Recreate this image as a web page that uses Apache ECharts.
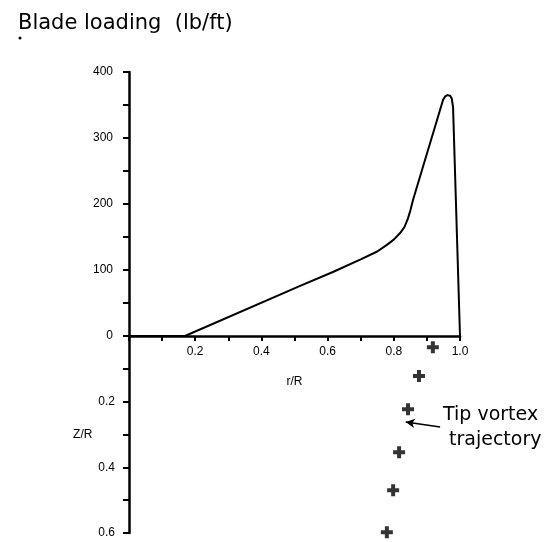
<!DOCTYPE html>
<html>
<head>
<meta charset="utf-8">
<script src="https://cdn.jsdelivr.net/npm/echarts@6/dist/echarts.min.js"></script>
<style>html,body{margin:0;padding:0;background:#fff}#c{width:553px;height:542px}</style>
</head>
<body>
<div id="c"></div>
<script>
// Blade loading curve (r/R vs lb/ft)
const loadR = [0, 0.169, 0.517, 0.616, 0.70, 0.75, 0.779, 0.80, 0.819, 0.832, 0.842, 0.85, 0.858, 0.949, 0.955, 0.962, 0.970, 0.975, 0.979, 1.0];
const loadL = [0, 0, 76, 97, 116, 128, 138, 146, 156, 165, 177, 190, 206, 358, 363, 365, 364, 360, 347, 0];
// Tip vortex trajectory (r/R vs Z/R)
const vortexR = [0.918, 0.876, 0.843, 0.816, 0.798, 0.779];
const vortexZ = [0.034, 0.122, 0.223, 0.354, 0.470, 0.598];
// Tick labels
const loadTicks = [0, 100, 200, 300, 400];
const rTicks = [0.2, 0.4, 0.6, 0.8, 1.0];
const zTicks = [0.2, 0.4, 0.6];

const near = (v, arr) => arr.some(t => Math.abs(t - v) < 1e-6);
const fmtR = v => near(v, rTicks) ? v.toFixed(1) : '';
const fmtZ = v => near(v, zTicks) ? v.toFixed(1) : '';
const fmtL = v => near(v, loadTicks) ? String(v) : '';

const axisFont = {color: '#000', fontFamily: 'Liberation Sans, Arial, sans-serif', fontSize: 12};
const thick = {lineStyle: {color: '#000', width: 2.5}};

const chart = echarts.init(document.getElementById('c'), null, {renderer: 'canvas'});
chart.setOption({
  animation: false,
  backgroundColor: '#fff',
  title: {
    text: 'Blade loading  (lb/ft)', left: 13, top: 8,
    textStyle: {fontFamily: 'DejaVu Sans, sans-serif', fontWeight: 'normal', fontSize: 21, color: '#000'}
  },
  grid: [
    {left: 129, right: 93, top: 72, height: 264},
    {left: 129, right: 93, top: 336, height: 197}
  ],
  xAxis: [
    {
      gridIndex: 0, type: 'value', min: 0, max: 1.0, interval: 0.1,
      name: 'r/R', nameLocation: 'middle', nameGap: 40,
      nameTextStyle: axisFont,
      axisLine: thick, axisTick: {show: true, length: 5, lineStyle: {color: '#000', width: 2}},
      axisLabel: Object.assign({formatter: fmtR, margin: 10}, axisFont),
      splitLine: {show: false}
    },
    {
      gridIndex: 1, type: 'value', min: 0, max: 1.0, show: false
    }
  ],
  yAxis: [
    {
      gridIndex: 0, type: 'value', min: 0, max: 400, interval: 50,
      axisLine: {show: true, lineStyle: {color: '#000', width: 2.5}},
      axisTick: {show: true, length: 6, lineStyle: {color: '#000', width: 2}},
      axisLabel: Object.assign({formatter: fmtL, margin: 16}, axisFont),
      splitLine: {show: false}
    },
    {
      gridIndex: 1, type: 'value', min: 0, max: 0.6, interval: 0.1, inverse: true,
      name: 'Z/R', nameLocation: 'middle', nameGap: 33, nameRotate: 0,
      nameTextStyle: axisFont,
      axisLine: {show: true, lineStyle: {color: '#000', width: 2.5}},
      axisTick: {show: true, length: 6, lineStyle: {color: '#000', width: 2}},
      axisLabel: Object.assign({formatter: fmtZ, margin: 14}, axisFont),
      splitLine: {show: false}
    }
  ],
  series: [
    {
      type: 'line', xAxisIndex: 0, yAxisIndex: 0, showSymbol: false, smooth: false,
      lineStyle: {color: '#000', width: 2, join: 'round'},
      data: loadR.map((r, i) => [r, loadL[i]])
    },
    {
      type: 'scatter', xAxisIndex: 1, yAxisIndex: 1,
      symbol: 'path://M4,0H8V4H12V8H8V12H4V8H0V4H4Z', symbolSize: 12,
      itemStyle: {color: '#000'},
      data: vortexR.map((r, i) => [r, vortexZ[i]]),
      markLine: {
        silent: true, symbol: ['none', 'arrow'], symbolSize: [7, 9],
        lineStyle: {color: '#000', width: 1.5, type: 'solid'},
        label: {show: false},
        data: [[{coord: [0.94, 0.277]}, {coord: [0.836, 0.262]}]]
      }
    }
  ],
  graphic: [
    {
      type: 'text', left: 443, top: 403,
      style: {text: 'Tip vortex\n trajectory', fontFamily: 'DejaVu Sans, sans-serif', fontSize: 19, lineHeight: 25, fill: '#000'}
    },
    {
      type: 'circle', shape: {cx: 20, cy: 38, r: 1.5}, style: {fill: '#000'}
    }
  ]
});
</script>
</body>
</html>
